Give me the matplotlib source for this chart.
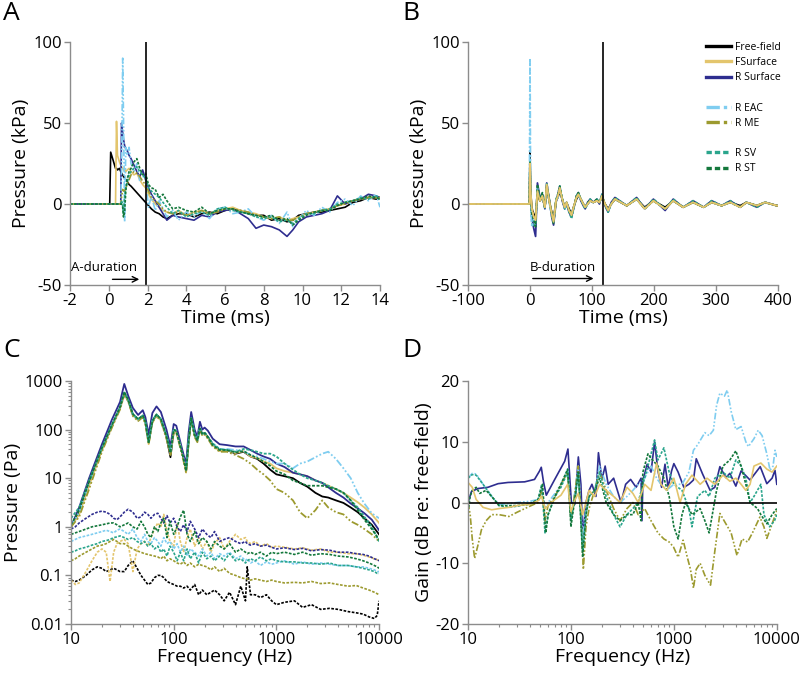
import matplotlib.pyplot as plt
from matplotlib.lines import Line2D

plt.rcParams['font.family'] = ['Open Sans', 'DejaVu Sans']
plt.rcParams['axes.unicode_minus'] = False

# series names / colours / line styles
names = ['Free-field', 'FSurface', 'R Surface', 'R EAC', 'R ME', 'R SV', 'R ST']
colors = ['#000000', '#e3c56d', '#2e2d8f', '#7fcdf0', '#9c9a2f', '#2aa58c', '#14783c']
dashdot = (0, (4, 1.2, 1, 1.2, 1, 1.2))
dotted = (0, (1.6, 0.9))
styles = ['-', '-', '-', dashdot, dashdot, dotted, dotted]

# ---------------- panel A: time (ms) vs pressure (kPa)
ta = [-2, 0.0, 0.05, 0.1, 0.2, 0.35, 0.4, 0.45, 0.55, 0.62, 0.66, 0.72, 0.76, 0.82, 0.88,
      0.95, 1.05, 1.15, 1.3, 1.45, 1.6, 1.75, 1.9, 2.05, 2.2, 2.4, 2.6, 2.8, 3.0, 3.3,
      3.6, 4.0, 4.4, 4.8, 5.2, 5.6, 6.0, 6.4, 6.8, 7.2, 7.6, 8.0, 8.4, 8.8, 9.2,
      9.5, 9.8, 10.2, 10.6, 11.0, 11.4, 11.8, 12.2, 12.6, 13.0, 13.4, 13.8, 14.0]
a_free = [0, 0, 0, 32, 28, 22, 22, 21, 22, 20, 19, 18, 17, 16, 15,
          14, 12, 11, 9, 7, 5, 3, 1, -1, -3, -5, -6, -8, -9, -7,
          -6, -6, -8, -6, -5, -6, -4, -3, -4, -6, -7, -7, -10, -9, -11,
          -10, -7, -6, -5, -5, -4, -3, -2, 1, 2, 4, 3, 3]
a_fs = [0, 0, 0, 0, 0, 0, 51, 30, 26, 24, 23, 22, 21, 22, 20,
        21, 22, 20, 18, 19, 15, 12, 10, 6, 3, 0, -2, -4, -5, -6,
        -4, -7, -5, -4, -6, -4, -3, -2, -4, -5, -6, -8, -9, -8, -10,
        -9, -8, -6, -5, -4, -3, -1, 0, 2, 3, 4, 4, 3]
a_rs = [0, 0, 0, 0, 0, 0, 0, 0, 0, 0, 50, 44, 40, 36, 34,
        33, 30, 28, 24, 20, 17, 21, 15, 10, 6, 2, -2, -6, -10, -7,
        -8, -9, -10, -7, -8, -5, -4, -3, -6, -9, -15, -13, -14, -16, -20,
        -16, -11, -8, -7, -6, -4, 5, 0, 2, 3, 6, 5, 4]
a_eac = [0, 0, 0, 0, 0, 0, 0, 0, 0, 0, 20, 90, 55, -11, 35,
         30, 35, 25, 20, 25, 14, 17, 16, -2, 5, -4, 2, -3, -8, -4,
         -10, -5, -8, -4, -9, -3, -2, -6, -5, -3, -8, -10, -7, -12, -5,
         -14, -9, -4, -7, -2, -5, 1, 3, -1, 5, 2, 6, -2]
a_me = [0, 0, 0, 0, 0, 0, 0, 0, 0, 0, 4, 9, 8, 8, 10,
        12, 15, 18, 20, 19, 17, 14, 12, 8, 4, 2, 0, -3, -5, -6,
        -5, -7, -6, -4, -6, -5, -3, -3, -4, -5, -7, -8, -9, -8, -10,
        -10, -8, -6, -5, -4, -3, -1, 0, 2, 3, 4, 4, 4]
a_sv = [0, 0, 0, 0, 0, 0, 0, 0, 0, 0, 2, 0, -6, 5, 10,
        13, 18, 20, 22, 23, 20, 18, 16, 10, 8, 6, 4, 1, -2, -6,
        -4, -8, -6, -5, -7, -3, -2, -4, -5, -6, -8, -9, -8, -11, -10,
        -12, -9, -6, -6, -4, -3, 0, 1, 2, 4, 3, 5, 3]
a_st = [0, 0, 0, 0, 0, 0, 0, 0, 0, 0, 0, -2, -8, -5, 8,
        15, 20, 22, 26, 28, 22, 18, 19, 12, 10, 9, 4, 6, 2, -3,
        -2, -4, -5, -2, -6, -4, -3, -3, -5, -6, -7, -8, -7, -10, -9,
        -13, -10, -7, -5, -4, -4, -1, 1, 2, 3, 5, 4, 3]

# ---------------- panel B: longer time window
tb = [-100, -1, 0, 1, 3, 6, 9, 12, 16, 20, 24, 27, 31, 35, 38, 42, 45, 48, 52, 56,
      59, 63, 67, 71, 75, 78, 82, 86, 89, 93, 97, 102, 108, 112, 116, 121, 126, 131,
      137, 156, 172, 185, 199, 218, 231, 247, 263, 280, 293, 309, 323, 339, 349, 366,
      379, 398, 400]
b_free = [0, 0, 32, 8, -3, -6, -8, 6, 2, 4, -2, 9, 2, -5, -9, 2, 4, 8, 3, -2,
          1, -3, -6, -1, 3, 5, 3, 0, -2, 0, 2, 1, 2, 1, 4, 0, -3, 0,
          3, -1, 3, -2, 2, -2, 2, -2, 1, -2, 1, -1, 1, -1, 1, -1, 1, -1, -1]
b_fs = [0, 0, 25, 8, -3, -8, -10, 8, 2, 5, -2, 12, 2, -6, -11, 2, 5, 10, 3, -2,
        1, -4, -7, -1, 4, 6, 3, 0, -2, 0, 2, 1, 2, 1, 5, 0, -4, 0,
        3, -1, 3, -3, 2, -3, 2, -2, 1, -2, 1, -1, 1, -2, 1, -1, 1, -1, -1]
b_rs = [0, 0, 22, 5, -8, -15, -20, 13, 4, 6, -3, 13, 3, -8, -13, 1, 6, 11, 2, -3,
        0, -5, -8, -2, 5, 7, 2, -1, -3, 1, 3, 1, 3, 0, 6, -1, -5, 1,
        4, -1, 4, -3, 3, -4, 3, -2, 2, -2, 2, -1, 2, -2, 1, -2, 1, -1, -1]
b_eac = [0, 0, 90, 2, -14, -10, -12, 10, 3, 4, -2, 11, 1, -7, -10, 2, 4, 9, 3, -3,
         1, -4, -6, -1, 4, 5, 3, 0, -2, 0, 2, 1, 2, 1, 4, 0, -4, 0,
         3, -1, 3, -3, 2, -3, 2, -2, 1, -2, 1, -1, 1, -2, 1, -1, 1, -1, -1]
b_me = [0, 0, 20, 6, -2, -7, -9, 7, 2, 5, -2, 11, 2, -5, -10, 2, 5, 9, 3, -2,
        1, -4, -6, -1, 4, 6, 3, 0, -2, 0, 2, 1, 2, 1, 4, 0, -4, 0,
        3, -1, 3, -3, 2, -3, 2, -2, 1, -2, 1, -1, 1, -2, 1, -1, 1, -1, -1]
b_sv = [0, 0, 28, 4, -12, -14, -12, 9, 3, 6, -3, 13, 2, -7, -12, 3, 6, 11, 4, -3,
        0, -5, -9, -2, 5, 7, 3, -1, -3, 0, 3, 1, 3, 1, 6, -1, -5, 0,
        4, -1, 4, -3, 3, -3, 3, -2, 2, -2, 2, -1, 2, -2, 1, -2, 1, -1, -1]
b_st = [0, 0, 26, 6, -6, -10, -14, 12, 3, 7, -2, 12, 3, -6, -12, 2, 6, 11, 3, -2,
        1, -4, -7, -1, 5, 7, 3, 0, -2, 1, 2, 1, 3, 1, 5, 0, -4, 0,
        3, -1, 3, -3, 2, -3, 2, -2, 1, -2, 1, -1, 1, -2, 1, -1, 1, -1, -1]

# ---------------- panel C: spectra (Pa)
fc = [10, 12, 15, 20, 25, 30, 33, 36, 40, 45, 50, 53, 57, 62, 68, 75, 85, 93, 100, 106,
      115, 125, 132, 140, 148, 160, 170, 180, 190, 200, 215, 240, 280, 330, 400, 480, 560,
      650, 750, 870, 1000, 1200, 1450, 1700, 2000, 2400, 2800, 3200, 3800, 4500, 5300,
      6200, 7200, 8500, 10000]
c_free = [1.0, 2.0, 8, 40, 120, 280, 550, 400, 200, 160, 190, 140, 55, 150, 200, 160, 70, 27, 95, 90,
          50, 25, 14, 60, 170, 75, 60, 105, 80, 85, 70, 50, 38, 38, 32, 35, 28,
          25, 20, 15, 12, 11, 10, 8, 6.7, 5, 4.2, 4, 3.5, 3.1, 2.5,
          2, 1.5, 1.1, 0.7]
c_fs = [1.0, 1.8, 7, 38, 115, 270, 520, 390, 200, 155, 185, 135, 50, 145, 195, 155, 70, 32, 90, 88,
        50, 25, 13, 55, 165, 75, 60, 100, 78, 82, 68, 48, 36, 38, 33, 36, 28,
        26, 22, 20, 16, 14, 13, 12, 11, 9, 8, 7, 6, 5, 4,
        3.2, 2.5, 1.8, 1.2]
c_rs = [1.0, 2.5, 10, 50, 160, 370, 870, 500, 280, 200, 250, 180, 80, 220, 300, 230, 100, 45, 130, 120,
        60, 30, 20, 90, 230, 100, 70, 145, 100, 110, 95, 65, 50, 48, 45, 45, 38,
        32, 28, 25, 20, 17, 13, 12, 11, 9, 8, 6.5, 5, 4, 3,
        2.4, 1.9, 1.4, 0.85]
c_eac = [1.0, 2.0, 8, 40, 120, 280, 560, 400, 200, 160, 190, 140, 55, 150, 200, 160, 75, 35, 100, 95,
         50, 25, 15, 60, 170, 80, 60, 110, 80, 85, 70, 50, 40, 40, 38, 36, 30,
         28, 25, 22, 20, 20, 16, 20, 22, 27, 32, 35, 25, 16, 10,
         5, 3, 1.9, 1.5]
c_me = [1.0, 1.6, 6, 35, 110, 260, 520, 380, 190, 150, 180, 130, 50, 140, 190, 150, 65, 30, 85, 85,
        45, 22, 13, 55, 160, 70, 55, 100, 75, 80, 65, 45, 35, 35, 30, 25, 20,
        15, 12, 9, 6, 5, 3.5, 2, 1.5, 2.2, 3.5, 2.5, 2, 1.8, 1.3,
        1.1, 0.9, 0.7, 0.5]
c_sv = [1.5, 2.5, 9, 42, 125, 290, 580, 410, 210, 165, 195, 145, 55, 155, 205, 165, 75, 35, 100, 95,
        50, 25, 15, 62, 175, 80, 62, 110, 82, 88, 72, 52, 40, 38, 35, 40, 38,
        35, 32, 32, 28, 20, 15, 12, 10, 9, 8, 7, 6, 5, 3.5,
        2.5, 1.6, 1.0, 0.5]
c_st = [1.1, 2.2, 8.5, 42, 125, 290, 600, 410, 210, 165, 195, 145, 55, 150, 205, 165, 75, 33, 100, 92,
        50, 25, 14, 60, 170, 78, 60, 105, 80, 85, 70, 48, 38, 38, 34, 36, 30,
        26, 22, 18, 14, 12, 9, 8, 7, 7, 7, 6.5, 6, 5, 3.5,
        2.2, 1.4, 0.9, 0.55]

# noise floors (dotted)
fn = [10, 11, 12, 14, 16, 18, 20, 22, 24, 26, 28, 30, 33, 36, 40, 44, 48, 52, 56, 60,
      65, 70, 75, 80, 86, 92, 100, 108, 116, 125, 135, 145, 160, 175, 190, 210, 230, 250,
      280, 310, 350, 400, 450, 500, 520, 560, 620, 700, 800, 900, 1000, 1200, 1500, 1800,
      2200, 2700, 3300, 4000, 5000, 6000, 7000, 8000, 9000, 9600, 10000]
n_free = [0.08, 0.075, 0.08, 0.1, 0.13, 0.15, 0.14, 0.12, 0.13, 0.14, 0.13, 0.12, 0.12, 0.16, 0.2,
          0.14, 0.1, 0.08, 0.065, 0.07, 0.09, 0.1, 0.1, 0.09, 0.075, 0.07, 0.065, 0.06, 0.06, 0.055,
          0.06, 0.05, 0.065, 0.04, 0.05, 0.04, 0.045, 0.05, 0.04, 0.03, 0.045, 0.025, 0.06, 0.03,
          0.15, 0.04, 0.04, 0.035, 0.04, 0.03, 0.025, 0.028, 0.03, 0.022, 0.025, 0.02, 0.021, 0.02,
          0.018, 0.017, 0.016, 0.014, 0.013, 0.015, 0.03]
n_fs = [0.08, 0.065, 0.07, 0.12, 0.2, 0.3, 0.35, 0.3, 0.075, 0.3, 0.45, 0.5, 0.55, 0.45, 0.12,
        0.35, 0.45, 0.5, 0.4, 0.6, 0.9, 1.2, 1.0, 1.8, 0.8, 0.5, 0.4, 1.2, 0.5, 0.3,
        0.6, 0.9, 0.4, 0.6, 0.35, 0.5, 0.3, 0.45, 0.6, 0.35, 0.5, 0.7, 0.55, 0.6,
        0.5, 0.45, 0.5, 0.4, 0.45, 0.38, 0.4, 0.38, 0.35, 0.37, 0.33, 0.35, 0.3, 0.3,
        0.28, 0.28, 0.26, 0.24, 0.22, 0.21, 0.2]
n_rs = [0.9, 1.0, 1.2, 1.5, 1.8, 2.0, 2.1, 2.0, 1.8, 1.5, 1.4, 1.6, 2.0, 2.3, 2.0,
        1.5, 1.6, 2.0, 1.8, 1.5, 1.8, 1.9, 1.5, 1.2, 1.7, 1.2, 1.5, 1.0, 0.8, 1.1,
        0.8, 1.3, 0.9, 0.6, 0.9, 0.7, 0.6, 0.8, 0.5, 0.55, 0.6, 0.5, 0.45, 0.5,
        0.45, 0.42, 0.45, 0.4, 0.42, 0.38, 0.35, 0.37, 0.34, 0.36, 0.32, 0.34, 0.33, 0.3,
        0.3, 0.28, 0.27, 0.25, 0.22, 0.21, 0.2]
n_eac = [0.5, 0.55, 0.6, 0.65, 0.7, 0.75, 0.8, 0.85, 0.8, 0.75, 0.85, 0.9, 0.8, 0.7, 0.9,
         0.6, 0.5, 0.7, 0.5, 0.45, 0.6, 0.5, 0.4, 0.6, 0.45, 0.5, 0.35, 0.45, 0.3, 0.4,
         0.25, 0.35, 0.3, 0.25, 0.35, 0.25, 0.3, 0.22, 0.28, 0.25, 0.3, 0.22, 0.25, 0.2,
         0.22, 0.18, 0.2, 0.16, 0.19, 0.17, 0.18, 0.2, 0.17, 0.19, 0.17, 0.18, 0.17, 0.16,
         0.16, 0.15, 0.15, 0.14, 0.13, 0.12, 0.12]
n_me = [0.2, 0.22, 0.25, 0.3, 0.35, 0.4, 0.42, 0.45, 0.5, 0.55, 0.5, 0.45, 0.45, 0.4, 0.35,
        0.32, 0.3, 0.28, 0.27, 0.26, 0.25, 0.24, 0.22, 0.25, 0.2, 0.22, 0.2, 0.18, 0.17, 0.19,
        0.16, 0.18, 0.15, 0.17, 0.16, 0.15, 0.13, 0.15, 0.12, 0.14, 0.11, 0.1, 0.09, 0.085,
        0.085, 0.08, 0.085, 0.08, 0.075, 0.08, 0.075, 0.07, 0.072, 0.07, 0.075, 0.068, 0.07, 0.065,
        0.06, 0.062, 0.055, 0.05, 0.045, 0.042, 0.04]
n_sv = [0.3, 0.32, 0.35, 0.38, 0.42, 0.45, 0.5, 0.52, 0.55, 0.6, 0.62, 0.65, 0.6, 0.55, 0.6,
        0.5, 0.45, 0.5, 0.4, 0.45, 0.35, 0.4, 0.3, 0.35, 0.25, 0.4, 0.3, 0.2, 0.3, 0.2,
        0.35, 0.22, 0.3, 0.18, 0.3, 0.22, 0.25, 0.2, 0.25, 0.2, 0.28, 0.2, 0.22, 0.18,
        0.2, 0.22, 0.2, 0.24, 0.2, 0.22, 0.2, 0.19, 0.19, 0.18, 0.18, 0.17, 0.18, 0.16,
        0.16, 0.15, 0.14, 0.13, 0.12, 0.11, 0.11]
n_st = [0.7, 0.75, 0.8, 0.9, 1.0, 1.05, 1.1, 1.15, 1.2, 1.2, 1.1, 1.0, 1.1, 1.2, 1.0,
        0.9, 1.3, 1.0, 0.7, 0.6, 1.0, 0.8, 1.2, 1.5, 0.6, 1.3, 0.7, 1.0, 1.6, 2.2,
        0.7, 0.5, 0.8, 0.45, 0.6, 0.5, 0.35, 0.5, 0.4, 0.35, 0.45, 0.3, 0.35, 0.3,
        0.28, 0.3, 0.27, 0.3, 0.25, 0.3, 0.28, 0.3, 0.27, 0.3, 0.26, 0.28, 0.27, 0.25,
        0.24, 0.22, 0.2, 0.18, 0.16, 0.15, 0.14]

# ---------------- panel D: gain re free-field (dB)
fd_fs = [10, 11, 12, 14, 17, 20, 25, 30, 40, 48, 52, 56, 60, 70, 80, 93, 100, 110, 118, 130,
         140, 150, 170, 190, 220, 260, 300, 350, 400, 450, 520, 600, 680, 750, 850, 1000,
         1150, 1300, 1500, 1800, 2100, 2500, 3000, 3500, 4000, 4500, 5000, 5500, 6000, 7000,
         8000, 9000, 10000]
g_fs = [3.3, 2.5, 0.5, -0.8, -1.2, -1.0, -0.8, -0.5, -0.3, 0.3, 1, -1, -0.5, 0.5, 1.2, 3, -1.5, 0.5, 1.5, -2,
        0, 2, 1, 3, 2, 1, 0, 2.5, 1.5, 0, 3, 2, 6.5, 3, 2, 4,
        0, 3, 4.5, 3, 4, 3, 4.5, 3.5, 4, 3, 2, 3, 6, 6.5,
        5.5, 5, 6]
fd_rs = [10, 10.8, 12.5, 15.6, 19.6, 24.5, 35.5, 44.3, 49.6, 51.5, 54, 57.6, 69.6, 87, 93.5, 101, 109,
         118, 125, 130, 140, 150, 160, 175, 185, 200, 215, 230, 260, 307, 340, 380, 430, 480,
         490, 500, 550, 600, 650, 700, 760, 820, 880, 950, 1000, 1100, 1250, 1400, 1550, 1650,
         1900, 2250, 2500, 2800, 3200, 3500, 4000, 4500, 5500, 6900, 8000, 9000, 9600, 10000]
g_rs = [0, 1.8, 2.3, 2.5, 3.1, 3.3, 3.4, 3.8, 5.2, 5.8, 3.5, 1.2, 3.8, 6.8, 8.8, 0, -0.3,
        7.5, 3, -5.5, 0, 2, 3, 1, 8.2, 3.8, 6, 3, 4, 0, 3, 3.8, 2.5, 4,
        -3, 3.6, 6.3, 5, 10, 5.2, 2.5, 6.3, 2.5, 5.2, 6.4, 5, 2.5, 3, 3.7, 7.2,
        4.7, 2, 2.5, 5.9, 4.1, 4.8, 2.7, 5.2, 3.7, 5.9, 3.1, 4, 5.3, 3]
fd_eac = [10, 11, 12, 14, 17, 20, 25, 30, 40, 48, 52, 56, 60, 70, 80, 93, 100, 110, 118, 130,
          140, 150, 170, 190, 220, 260, 300, 350, 400, 450, 520, 600, 680, 750, 850, 1000,
          1200, 1400, 1550, 1700, 2000, 2200, 2420, 2600, 2800, 3100, 3300, 3600, 4000, 4500,
          5000, 5300, 6000, 6600, 7200, 8000, 8600, 9200, 9600, 10000]
g_eac = [4, 4.8, 4.7, 3, 1, -0.3, -0.2, 0, 0.2, 0.5, 2, -1, 0, 1.5, 3, 5.5, -2, 2, 6, -6,
         -1, 1, 2, 6, 3, 1, 0, 1, 2, 3, 4, 6, 4, 3, 2, 3,
         3, 5, 8.6, 9.5, 11.5, 11, 11.9, 16, 18, 17.5, 18.5, 15, 12, 12.5,
         10, 9.2, 10.5, 11.9, 11, 8, 5.3, 6, 8.6, 7.5]
fd_me = [10, 10.5, 11, 11.6, 12.5, 13.5, 15, 17, 20, 25, 30, 40, 48, 52, 56, 60, 70, 80, 93, 100,
         110, 118, 125, 132, 140, 150, 170, 190, 220, 260, 300, 350, 400, 450, 520, 600, 700,
         800, 900, 990, 1100, 1230, 1350, 1450, 1550, 1650, 1800, 2000, 2270, 2500, 2800, 3200,
         3600, 4100, 4600, 5200, 5800, 6850, 7500, 8000, 8800, 10000]
g_me = [0, -2, -6, -9.2, -7, -4.5, -3, -2, -2, -2.3, -1.6, -0.6, 0, 2, -3, -0.5, 1, 3, 5, -3,
        2, 6, -2, -11, -4, -1, 2, 5, 2, -1, -3, -1, 0, -2, -1, -3, -5,
        -6, -6.5, -7.3, -9, -6.2, -9, -11, -14.1, -11, -10, -12, -13.6, -8, -1.8, -3.5,
        -5, -8.7, -6, -6.5, -5, -2.4, -4, -5.9, -4, -1.3]
fd_sv = [10, 11, 12, 14, 17, 20, 25, 30, 40, 48, 52, 56, 60, 70, 80, 93, 100, 110, 118, 130,
         140, 150, 170, 190, 220, 260, 300, 350, 400, 450, 500, 560, 650, 700, 800, 900, 1000,
         1200, 1400, 1500, 1700, 2000, 2200, 2500, 3000, 3500, 4000, 4500, 5000, 5500, 6000,
         7000, 7500, 8500, 9500, 10000]
g_sv = [4, 4.6, 4.5, 3, 1, -0.5, -0.8, -0.6, -0.2, 0.5, 3, -5, -2, 1, 2.5, 5, -3, 1, 5, -8,
        -2, 1, 2, 5, 1, -2, -4, -2, -1, 0, 3, 6, 10.3, 7, 9, 5, 3,
        2, -1, -4, 1, 2, 1, 4, 5, 4, 7, 6, 4, 0, 1,
        3, -2, -4, -3, -2]
fd_st = [10, 10.5, 11, 12, 13, 15, 18, 20, 25, 30, 40, 48, 53, 57, 60, 70, 80, 93, 100, 110,
         118, 130, 140, 150, 170, 190, 220, 260, 300, 350, 400, 450, 480, 500, 560, 620, 700,
         800, 900, 1000, 1100, 1200, 1300, 1500, 1800, 2000, 2200, 2600, 3000, 3500, 4000,
         4500, 5000, 5500, 6500, 7000, 8000, 9000, 10000]
g_st = [-1.5, 1, 2, 2.5, 1.5, 2, 0.5, -0.5, -0.5, -0.5, -0.3, 0.5, 3, -5, -2, 1, 3, 5.5, -4, 1,
        5, -9, -2, 1, 2, 4, 0, -2, -3, -2, -2, 0, -3, 5, 8, 7, 6,
        4, 1, -4, -6, -2, 0, -2, -1, -3, -5, 2, 6, 7, 8.5,
        6, 3, 0, -1, -2, -3.5, -2, -1]

grey = '#8c8c8c'


def style_axes(ax):
    for s in ['top', 'right']:
        ax.spines[s].set_visible(False)
    for s in ['left', 'bottom']:
        ax.spines[s].set_color(grey)
        ax.spines[s].set_linewidth(1.0)
    ax.tick_params(which='major', direction='out', length=4, width=1, color=grey,
                   labelsize=12, pad=2)
    ax.tick_params(which='minor', direction='out', length=2, width=0.8, color=grey)


fig = plt.figure(figsize=(8, 6.76), dpi=100)
axA = fig.add_axes([0.0875, 0.5784, 0.3875, 0.3595])
axB = fig.add_axes([0.585, 0.5784, 0.3875, 0.3595])
axC = fig.add_axes([0.0888, 0.0769, 0.385, 0.3595])
axD = fig.add_axes([0.585, 0.0769, 0.386, 0.3595])

# A
for y, c, ls in zip([a_free, a_fs, a_rs, a_eac, a_me, a_sv, a_st], colors, styles):
    axA.plot(ta, y, color=c, linestyle=ls, lw=1.2)
axA.axvline(1.9, color='black', lw=1.2)
axA.annotate('', xy=(1.72, -46.5), xytext=(0.05, -46.5),
             arrowprops=dict(arrowstyle='->', color='black', lw=1))
axA.text(-1.95, -39, 'A-duration', fontsize=9.5, va='center', ha='left')
axA.set_xlim(-2, 14)
axA.set_ylim(-50, 100)
axA.set_xticks([-2, 0, 2, 4, 6, 8, 10, 12, 14])
axA.set_yticks([-50, 0, 50, 100])
axA.set_xlabel('Time (ms)', fontsize=14, labelpad=0)
axA.set_ylabel('Pressure (kPa)', fontsize=14, labelpad=2)
style_axes(axA)

# B
for y, c, ls in zip([b_free, b_rs, b_sv, b_eac, b_st, b_me, b_fs],
                    [colors[0], colors[2], colors[5], colors[3], colors[6], colors[4], colors[1]],
                    [styles[0], styles[2], styles[5], styles[3], styles[6], styles[4], styles[1]]):
    axB.plot(tb, y, color=c, linestyle=ls, lw=1.3)
axB.axvline(117, color='black', lw=1.2)
axB.annotate('', xy=(107, -46), xytext=(0, -46),
             arrowprops=dict(arrowstyle='->', color='black', lw=1))
axB.text(0, -39, 'B-duration', fontsize=9.5, va='center', ha='left')
axB.set_xlim(-100, 400)
axB.set_ylim(-50, 100)
axB.set_xticks([-100, 0, 100, 200, 300, 400])
axB.set_yticks([-50, 0, 50, 100])
axB.set_xlabel('Time (ms)', fontsize=14, labelpad=0)
axB.set_ylabel('Pressure (kPa)', fontsize=14, labelpad=2)
style_axes(axB)

handles = []
for i, (n, c, ls) in enumerate(zip(names, colors, styles)):
    if i in (3, 5):
        handles.append(Line2D([], [], color='none', label=' '))
    handles.append(Line2D([], [], color=c, linestyle=ls, lw=2.4, label=n))
fig.legend(handles=handles, loc='upper left', bbox_to_anchor=(0.883, 0.938),
           bbox_transform=fig.transFigure, frameon=False, fontsize=7.5,
           handlelength=2.4, handletextpad=0.3, labelspacing=0.4,
           borderpad=0, borderaxespad=0)

# C
for y, c in zip([n_free, n_fs, n_rs, n_eac, n_me, n_sv, n_st], colors):
    axC.plot(fn, y, color=c, linestyle=dotted, lw=1.2)
for y, c, ls in zip([c_free, c_fs, c_rs, c_eac, c_me, c_sv, c_st], colors, styles):
    axC.plot(fc, y, color=c, linestyle=ls, lw=1.3)
axC.set_xscale('log')
axC.set_yscale('log')
axC.set_xlim(10, 10000)
axC.set_ylim(0.01, 1000)
axC.set_xticks([10, 100, 1000, 10000])
axC.set_xticklabels(['10', '100', '1000', '10000'])
axC.set_yticks([0.01, 0.1, 1, 10, 100, 1000])
axC.set_yticklabels(['0.01', '0.1', '1', '10', '100', '1000'])
axC.set_xlabel('Frequency (Hz)', fontsize=14, labelpad=0)
axC.set_ylabel('Pressure (Pa)', fontsize=14, labelpad=2)
style_axes(axC)

# D
for f, y, c, ls in zip([fd_rs, fd_eac, fd_me, fd_sv, fd_st, fd_fs],
                       [g_rs, g_eac, g_me, g_sv, g_st, g_fs],
                       [colors[2], colors[3], colors[4], colors[5], colors[6], colors[1]],
                       [styles[2], styles[3], styles[4], styles[5], styles[6], styles[1]]):
    axD.plot(f, y, color=c, linestyle=ls, lw=1.2)
axD.axhline(0, color='black', lw=1.2)
axD.set_xscale('log')
axD.set_xlim(10, 10000)
axD.set_ylim(-20, 20)
axD.set_xticks([10, 100, 1000, 10000])
axD.set_xticklabels(['10', '100', '1000', '10000'])
axD.set_yticks([-20, -10, 0, 10, 20])
axD.set_xlabel('Frequency (Hz)', fontsize=14, labelpad=0)
axD.set_ylabel('Gain (dB re: free-field)', fontsize=14, labelpad=2)
style_axes(axD)

# panel letters
for x, y, t in [(0.004, 0.998, 'A'), (0.503, 0.998, 'B'), (0.004, 0.5, 'C'), (0.503, 0.5, 'D')]:
    fig.text(x, y, t, fontsize=19, va='top', ha='left')

fig.savefig('out.png', dpi=100)
